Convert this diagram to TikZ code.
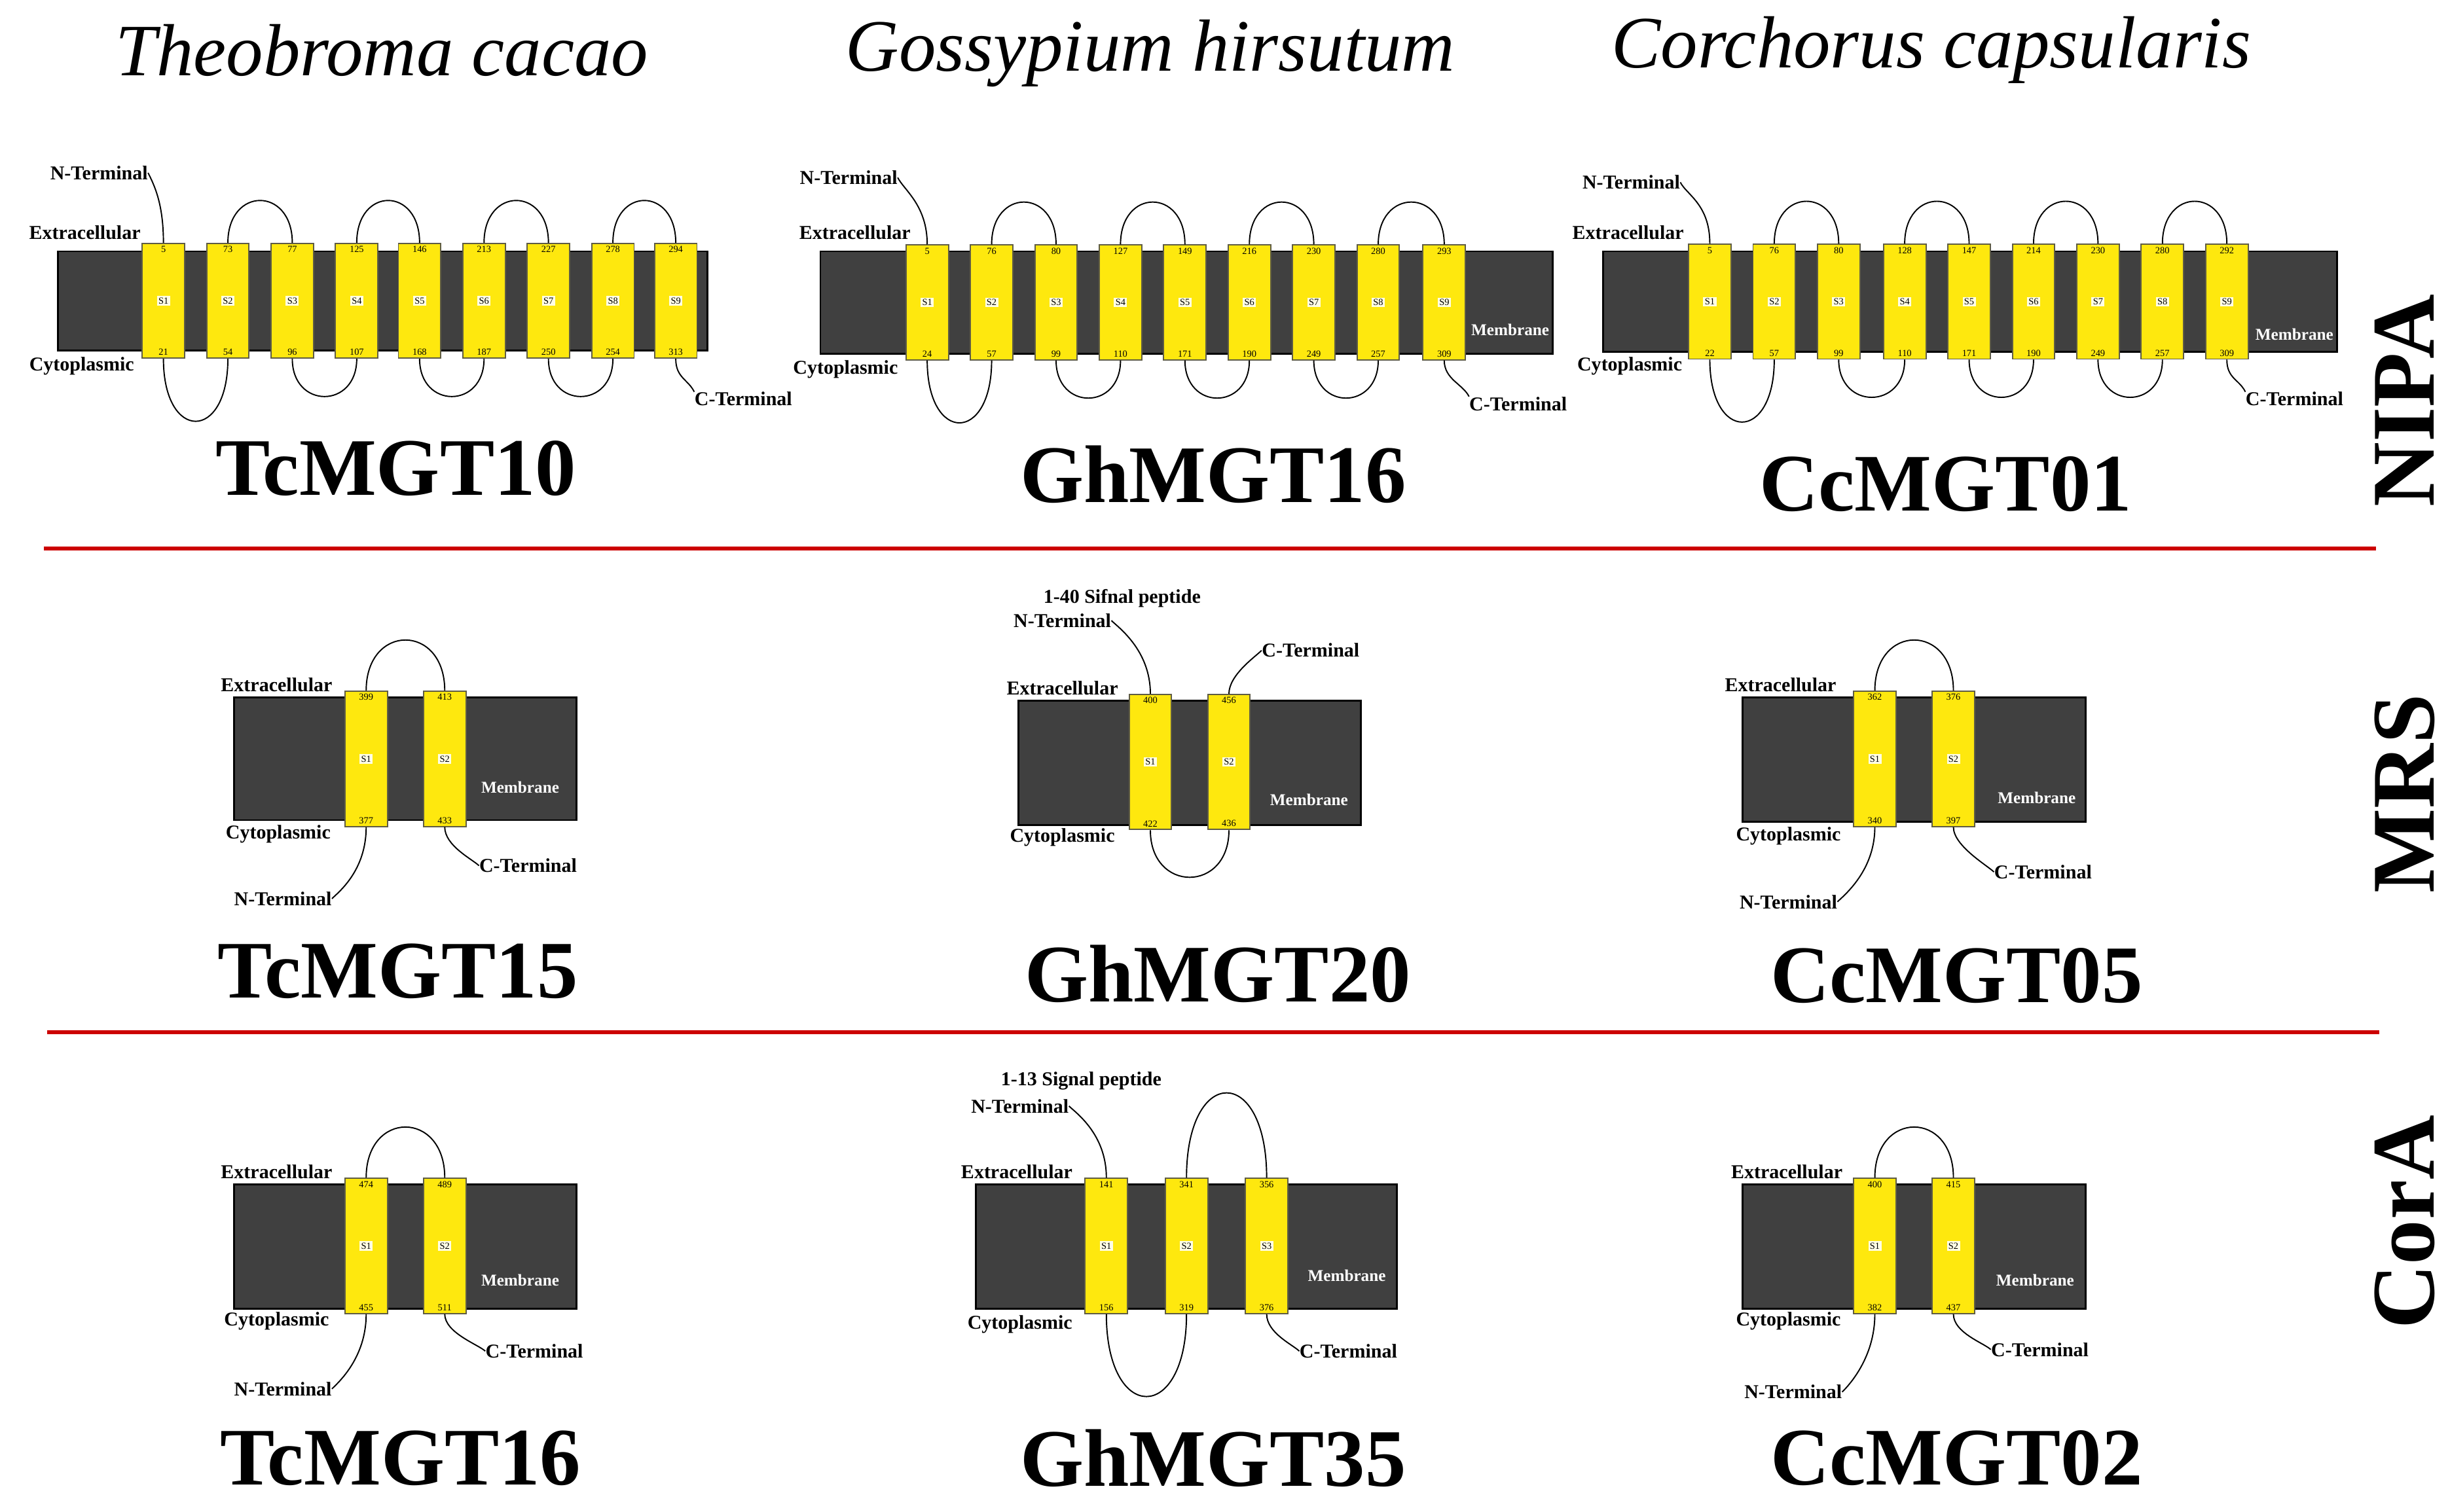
\documentclass[tikz,border=0pt]{standalone}
\usepackage{fontspec}
\setmainfont{Liberation Serif}
\begin{document}
\begin{tikzpicture}[x=1pt,y=-1pt,
 mem/.style={fill=black!75,draw=black,line width=1.2pt},
 hbox/.style={draw=black!60!yellow!70!black,fill=yellow!90!orange!95!white,line width=0.8pt,minimum width=27pt,inner sep=0pt},
 num/.style={font=\fontsize{6}{6}\selectfont,inner sep=2pt},
 snum/.style={font=\fontsize{6}{6}\selectfont,fill=white!90!yellow,inner sep=1pt},
 lab/.style={font=\bfseries\fontsize{12.5}{12.5}\selectfont,inner sep=0pt},
 wlab/.style={font=\bfseries\fontsize{10.5}{10.5}\selectfont,text=white,inner sep=0pt},
 gname/.style={font=\bfseries\fontsize{52}{52}\selectfont,inner sep=0pt},
 title/.style={font=\itshape\fontsize{47}{47}\selectfont,inner sep=0pt},
 fam/.style={font=\bfseries\fontsize{57}{57}\selectfont,inner sep=0pt,rotate=90},
 lp/.style={line width=0.8pt},
 sep/.style={draw=red!80!black,line width=2.5pt}]
\useasboundingbox (0,0) rectangle (1559,962);
\newcommand\hx[7]{%
 \node[hbox,minimum height=#4] (#1) at (#2,#3) {};
 \node[num,below] at (#1.north) {#5};
 \node[snum] at (#1.center) {#6};
 \node[num,above] at (#1.south) {#7};}
\newcommand\up[3]{\draw[lp] (#1.north) .. controls +(0,-#3) and +(0,-#3) .. (#2.north);}
\newcommand\dn[3]{\draw[lp] (#1.south) .. controls +(0,#3) and +(0,#3) .. (#2.south);}
% titles
\node[title] (t1) at (243,32) {Theobroma cacao};
\node[title] (t2) at (732,34) {Gossypium hirsutum};
\node[title] (t3) at (1229,32) {Corchorus capsularis};
\node[fam] (f1) at (1530,255) {NIPA};
\node[fam] (f2) at (1530,505) {MRS};
\node[fam] (f3) at (1530,778) {CorA};
\draw[sep] (28,349) -- (1512,349);
\draw[sep] (30,657) -- (1514,657);
% ===== TcMGT10
\draw[mem] (37,160) rectangle (450,223);
\hx{a1}{104}{191.5}{73}{5}{S1}{21}
\hx{a2}{145}{191.5}{73}{73}{S2}{54}
\hx{a3}{186}{191.5}{73}{77}{S3}{96}
\hx{a4}{227}{191.5}{73}{125}{S4}{107}
\hx{a5}{267}{191.5}{73}{146}{S5}{168}
\hx{a6}{308}{191.5}{73}{213}{S6}{187}
\hx{a7}{349}{191.5}{73}{227}{S7}{250}
\hx{a8}{390}{191.5}{73}{278}{S8}{254}
\hx{a9}{430}{191.5}{73}{294}{S9}{313}
\up{a2}{a3}{36}\up{a4}{a5}{36}\up{a6}{a7}{36}\up{a8}{a9}{36}
\dn{a1}{a2}{53}\dn{a3}{a4}{32}\dn{a5}{a6}{32}\dn{a7}{a8}{32}
\node[lab] (aN) at (63,110) {N-Terminal};
\node[lab] (aE) at (54,148) {Extracellular};
\node[lab] (aC) at (52,233) {Cytoplasmic};
\node[lab] (aT) at (473,254) {C-Terminal};
\node[wlab] (aM) at (476,209) {Membrane};
\draw[lp] (a1.north) .. controls +(0,-25) and +(4,8) .. (aN.east);
\draw[lp] (a9.south) .. controls +(0,12) and +(-4,-8) .. (aT.north west);
\node[gname] (g1) at (252,298) {TcMGT10};
% ===== GhMGT16
\draw[mem] (522,160) rectangle (988,225);
\hx{b1}{590}{192.5}{73}{5}{S1}{24}
\hx{b2}{631}{192.5}{73}{76}{S2}{57}
\hx{b3}{672}{192.5}{73}{80}{S3}{99}
\hx{b4}{713}{192.5}{73}{127}{S4}{110}
\hx{b5}{754}{192.5}{73}{149}{S5}{171}
\hx{b6}{795}{192.5}{73}{216}{S6}{190}
\hx{b7}{836}{192.5}{73}{230}{S7}{249}
\hx{b8}{877}{192.5}{73}{280}{S8}{257}
\hx{b9}{919}{192.5}{73}{293}{S9}{309}
\up{b2}{b3}{36}\up{b4}{b5}{36}\up{b6}{b7}{36}\up{b8}{b9}{36}
\dn{b1}{b2}{53}\dn{b3}{b4}{32}\dn{b5}{b6}{32}\dn{b7}{b8}{32}
\node[lab] (bN) at (540,113) {N-Terminal};
\node[lab] (bE) at (544,148) {Extracellular};
\node[lab] (bC) at (538,235) {Cytoplasmic};
\node[lab] (bT) at (966,257) {C-Terminal};
\node[wlab] (bM) at (961,210) {Membrane};
\draw[lp] (b1.north) .. controls +(0,-25) and +(4,8) .. (bN.east);
\draw[lp] (b9.south) .. controls +(0,12) and +(-4,-8) .. (bT.north west);
\node[gname] (g2) at (772,302) {GhMGT16};
% ===== CcMGT01
\draw[mem] (1020,160) rectangle (1487,224);
\hx{c1}{1088}{192}{73}{5}{S1}{22}
\hx{c2}{1129}{192}{73}{76}{S2}{57}
\hx{c3}{1170}{192}{73}{80}{S3}{99}
\hx{c4}{1212}{192}{73}{128}{S4}{110}
\hx{c5}{1253}{192}{73}{147}{S5}{171}
\hx{c6}{1294}{192}{73}{214}{S6}{190}
\hx{c7}{1335}{192}{73}{230}{S7}{249}
\hx{c8}{1376}{192}{73}{280}{S8}{257}
\hx{c9}{1417}{192}{73}{292}{S9}{309}
\up{c2}{c3}{36}\up{c4}{c5}{36}\up{c6}{c7}{36}\up{c8}{c9}{36}
\dn{c1}{c2}{53}\dn{c3}{c4}{32}\dn{c5}{c6}{32}\dn{c7}{c8}{32}
\node[lab] (cN) at (1038,116) {N-Terminal};
\node[lab] (cE) at (1036,148) {Extracellular};
\node[lab] (cC) at (1037,233) {Cytoplasmic};
\node[lab] (cT) at (1460,254) {C-Terminal};
\node[wlab] (cM) at (1460,213) {Membrane};
\draw[lp] (c1.north) .. controls +(0,-25) and +(4,8) .. (cN.east);
\draw[lp] (c9.south) .. controls +(0,12) and +(-4,-8) .. (cT.north west);
\node[gname] (g3) at (1238,308) {CcMGT01};
% ===== TcMGT15
\draw[mem] (149,444) rectangle (367,522);
\hx{d1}{233}{483}{86}{399}{S1}{377}
\hx{d2}{283}{483}{86}{413}{S2}{433}
\up{d1}{d2}{43}
\node[lab] (dN) at (180,572) {N-Terminal};
\node[lab] (dE) at (176,436) {Extracellular};
\node[lab] (dC) at (177,531) {Cytoplasmic};
\node[lab] (dT) at (336,551) {C-Terminal};
\node[wlab] (dM) at (331,501) {Membrane};
\draw[lp] (d1.south) .. controls +(0,28) and +(4,-4) .. (dN.east);
\draw[lp] (d2.south) .. controls +(0,12) and +(-4,-4) .. (dT.west);
\node[gname] (g4) at (253,618) {TcMGT15};
% ===== GhMGT20
\draw[mem] (648,446) rectangle (866,525);
\hx{e1}{732}{485}{86}{400}{S1}{422}
\hx{e2}{782}{485}{86}{456}{S2}{436}
\dn{e1}{e2}{40}
\node[lab] (eP) at (714,381) {1-40 Sifnal peptide};
\node[lab] (eN) at (676,395) {N-Terminal};
\node[lab] (eE) at (676,438) {Extracellular};
\node[lab] (eC) at (676,533) {Cytoplasmic};
\node[lab] (eT) at (834,414) {C-Terminal};
\node[wlab] (eM) at (833,509) {Membrane};
\draw[lp] (e1.north) .. controls +(0,-28) and +(4,4) .. (eN.east);
\draw[lp] (e2.north) .. controls +(0,-12) and +(-4,4) .. (eT.west);
\node[gname] (g5) at (775,620) {GhMGT20};
% ===== CcMGT05
\draw[mem] (1109,444) rectangle (1327,523);
\hx{f1b}{1193}{483}{86}{362}{S1}{340}
\hx{f2b}{1243}{483}{86}{376}{S2}{397}
\up{f1b}{f2b}{43}
\node[lab] (fN) at (1138,574) {N-Terminal};
\node[lab] (fE) at (1133,436) {Extracellular};
\node[lab] (fC) at (1138,532) {Cytoplasmic};
\node[lab] (fT) at (1300,555) {C-Terminal};
\node[wlab] (fM) at (1296,508) {Membrane};
\draw[lp] (f1b.south) .. controls +(0,28) and +(4,-4) .. (fN.east);
\draw[lp] (f2b.south) .. controls +(0,12) and +(-4,-4) .. (fT.west);
\node[gname] (g6) at (1245,621) {CcMGT05};
% ===== TcMGT16
\draw[mem] (149,754) rectangle (367,833);
\hx{h1}{233}{793}{86}{474}{S1}{455}
\hx{h2}{283}{793}{86}{489}{S2}{511}
\up{h1}{h2}{43}
\node[lab] (hN) at (180,884) {N-Terminal};
\node[lab] (hE) at (176,746) {Extracellular};
\node[lab] (hC) at (176,841) {Cytoplasmic};
\node[lab] (hT) at (340,860) {C-Terminal};
\node[wlab] (hM) at (331,815) {Membrane};
\draw[lp] (h1.south) .. controls +(0,28) and +(4,-4) .. (hN.east);
\draw[lp] (h2.south) .. controls +(0,12) and +(-4,-4) .. (hT.west);
\node[gname] (g7) at (255,928) {TcMGT16};
% ===== GhMGT35
\draw[mem] (621,754) rectangle (889,833);
\hx{k1}{704}{793}{86}{141}{S1}{156}
\hx{k2}{755}{793}{86}{341}{S2}{319}
\hx{k3}{806}{793}{86}{356}{S3}{376}
\dn{k1}{k2}{70}
\up{k2}{k3}{72}
\node[lab] (kP) at (688,688) {1-13 Signal peptide};
\node[lab] (kN) at (649,704) {N-Terminal};
\node[lab] (kE) at (647,746) {Extracellular};
\node[lab] (kC) at (649,843) {Cytoplasmic};
\node[lab] (kT) at (858,860) {C-Terminal};
\node[wlab] (kM) at (857,812) {Membrane};
\draw[lp] (k1.north) .. controls +(0,-28) and +(4,4) .. (kN.east);
\draw[lp] (k3.south) .. controls +(0,12) and +(-4,-4) .. (kT.west);
\node[gname] (g8) at (772,928) {GhMGT35};
% ===== CcMGT02
\draw[mem] (1109,754) rectangle (1327,833);
\hx{m1}{1193}{793}{86}{400}{S1}{382}
\hx{m2}{1243}{793}{86}{415}{S2}{437}
\up{m1}{m2}{43}
\node[lab] (mN) at (1141,886) {N-Terminal};
\node[lab] (mE) at (1137,746) {Extracellular};
\node[lab] (mC) at (1138,841) {Cytoplasmic};
\node[lab] (mT) at (1298,859) {C-Terminal};
\node[wlab] (mM) at (1295,815) {Membrane};
\draw[lp] (m1.south) .. controls +(0,28) and +(4,-4) .. (mN.east);
\draw[lp] (m2.south) .. controls +(0,12) and +(-4,-4) .. (mT.west);
\node[gname] (g9) at (1245,928) {CcMGT02};
\end{tikzpicture}
\end{document}
